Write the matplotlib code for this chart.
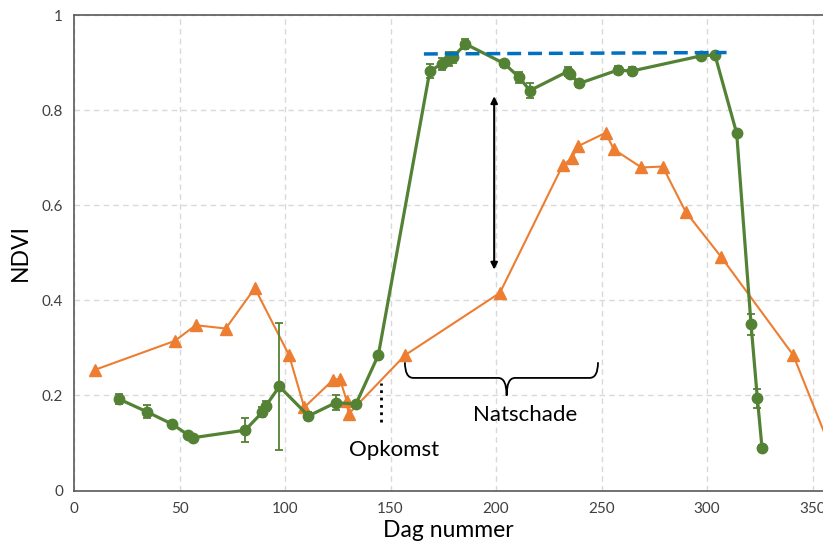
import numpy as np
import matplotlib.pyplot as plt
from matplotlib.path import Path
from matplotlib.patches import PathPatch

plt.rcParams['font.family'] = ['Lato', 'DejaVu Sans']

# green series (with error bars)
dag_groen = [21.1, 34.4, 46.4, 54.1, 56.2, 81.1, 89.3, 90.9, 97.3, 111.1, 124.1, 133.6,
             144.2, 168.6, 174.2, 177.5, 179.5, 185.5, 203.8, 210.9, 216.0, 233.9, 235.2,
             239.4, 257.6, 264.2, 297.1, 303.7, 314.0, 320.8, 323.8, 326.0]
ndvi_groen = [0.193, 0.166, 0.140, 0.117, 0.111, 0.127, 0.165, 0.178, 0.219, 0.157, 0.185,
              0.182, 0.285, 0.883, 0.898, 0.908, 0.912, 0.940, 0.899, 0.870, 0.842, 0.882,
              0.876, 0.857, 0.885, 0.883, 0.915, 0.917, 0.752, 0.350, 0.194, 0.090]
fout_groen = [0.010, 0.014, 0.005, 0.005, 0.005, 0.025, 0.010, 0.010, 0.134, 0.008, 0.015,
              0.005, 0.005, 0.015, 0.012, 0.015, 0.012, 0.010, 0.008, 0.012, 0.015, 0.010,
              0.008, 0.008, 0.008, 0.008, 0.005, 0.005, 0.005, 0.022, 0.020, 0.005]

# orange series
dag_oranje = [9.9, 47.8, 57.7, 71.9, 85.7, 101.9, 109.1, 122.8, 126.0, 129.2, 130.1, 156.9,
              201.8, 231.6, 235.8, 238.9, 251.9, 255.8, 268.9, 278.9, 289.8, 306.6, 340.8, 360.0]
ndvi_oranje = [0.254, 0.315, 0.348, 0.341, 0.426, 0.285, 0.175, 0.233, 0.235, 0.189, 0.161,
               0.285, 0.416, 0.685, 0.699, 0.725, 0.753, 0.718, 0.680, 0.682, 0.587, 0.492,
               0.285, 0.072]

# maximum level line
max_x = [165.8, 309.2]
max_y = [0.919, 0.922]

fig = plt.figure(figsize=(8.23, 5.51), dpi=100)
ax = fig.add_axes([0.0899, 0.1098, 0.9101, 0.8621])

ax.plot(dag_oranje, ndvi_oranje, color='#ED7D31', lw=1.5, marker='^', ms=9,
        clip_on=True, zorder=3)
ax.errorbar(dag_groen, ndvi_groen, yerr=fout_groen, color='#548235', lw=2.3,
            marker='o', ms=7.5, elinewidth=1.3, capsize=3, capthick=1.3, zorder=4)
ax.plot(max_x, max_y, color='#0070C0', lw=2.5, ls=(0, (4, 2)), zorder=5)

# double arrow between the curves
ax.annotate('', xy=(199.1, 0.465), xytext=(199.1, 0.83),
            arrowprops=dict(arrowstyle='<|-|>', color='black', lw=1.5,
                            mutation_scale=10, shrinkA=0, shrinkB=0))

# emergence marker
ax.plot([145.7, 145.7], [0.145, 0.226], color='black', ls=':', lw=2)
ax.text(151.6, 0.085, 'Opkomst', fontsize=16, ha='center', va='center')

# curly brace
xl, xr, xm = 156.8, 248.3, 205.0
yt, yb, ytip = 0.27, 0.237, 0.20
verts = [(xl, yt), (xl, yb), (xl + 4, yb),
         (xm - 4, yb), (xm, yb), (xm, ytip),
         (xm, yb), (xm + 4, yb),
         (xr - 4, yb), (xr, yb), (xr, yt)]
codes = [Path.MOVETO, Path.CURVE3, Path.CURVE3,
         Path.LINETO, Path.CURVE3, Path.CURVE3,
         Path.CURVE3, Path.CURVE3,
         Path.LINETO, Path.CURVE3, Path.CURVE3]
ax.add_patch(PathPatch(Path(verts, codes), fill=False, lw=1.3, color='black'))
ax.text(213.7, 0.159, 'Natschade', fontsize=16, ha='center', va='center')

ax.set_xlim(0, 354.9)
ax.set_ylim(0, 1)
ax.set_xticks([0, 50, 100, 150, 200, 250, 300, 350])
ax.set_yticks([0, 0.2, 0.4, 0.6, 0.8, 1])
ax.set_yticklabels(['0', '0.2', '0.4', '0.6', '0.8', '1'])
ax.tick_params(length=0, labelsize=11, colors='#404040', pad=8)
ax.grid(True, color='#D9D9D9', ls=(0, (4, 3)), lw=1)
ax.set_axisbelow(True)
for s in ['left', 'bottom', 'top']:
    ax.spines[s].set_color('#595959')
    ax.spines[s].set_linewidth(1.2)
ax.spines['right'].set_visible(False)

ax.set_xlabel('Dag nummer', fontsize=16.5, labelpad=3)
ax.set_ylabel('NDVI', fontsize=16.5, labelpad=8)

fig.savefig('out.png', dpi=100)
